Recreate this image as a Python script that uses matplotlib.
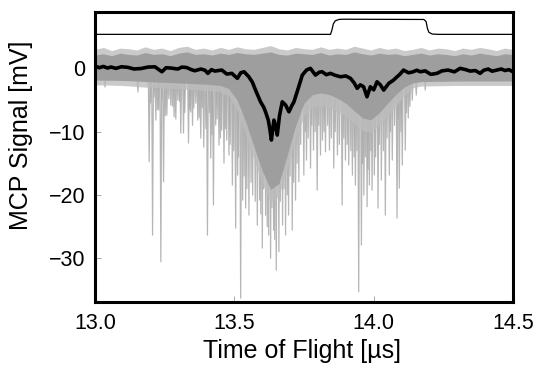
import numpy as np
import matplotlib
matplotlib.use("Agg")
import matplotlib.pyplot as plt

plt.rcParams['font.family'] = ['Liberation Sans', 'DejaVu Sans']

# ---- data ----
# averaged trace (thick black)
mean_t = [13.000, 13.015, 13.030, 13.045, 13.057, 13.075, 13.095, 13.118, 13.140, 13.165, 13.190,
          13.215, 13.240, 13.255, 13.272, 13.297, 13.312, 13.329, 13.345, 13.358, 13.380, 13.395,
          13.405, 13.418, 13.430, 13.455, 13.473, 13.491, 13.511, 13.523, 13.535, 13.552, 13.565,
          13.576, 13.594, 13.605, 13.612, 13.622, 13.628, 13.633, 13.642, 13.648, 13.654, 13.662,
          13.672, 13.684, 13.696, 13.705, 13.714, 13.731, 13.744, 13.759, 13.773, 13.791, 13.805,
          13.815, 13.830, 13.845, 13.862, 13.881, 13.900, 13.917, 13.930, 13.941, 13.952, 13.964,
          13.976, 13.988, 14.000, 14.012, 14.024, 14.036, 14.054, 14.070, 14.084, 14.095, 14.107,
          14.125, 14.139, 14.155, 14.167, 14.185, 14.205, 14.227, 14.245, 14.267, 14.290, 14.310,
          14.330, 14.346, 14.365, 14.382, 14.395, 14.411, 14.425, 14.442, 14.458, 14.471, 14.485,
          14.500]
mean_v = [0.36, 0.10, 0.30, 0.05, 0.21, 0.00, 0.25, 0.16, -0.10, -0.03, 0.20,
          0.25, -0.54, 0.10, 0.05, -0.11, 0.20, 0.13, -0.20, -0.38, -0.11, -0.30,
          -0.79, -0.20, -0.43, -0.27, -0.90, -0.79, -1.58, -0.70, -0.54, -1.33, -2.20,
          -3.43, -5.28, -6.10, -6.87, -8.20, -9.75, -11.33, -8.17, -9.00, -10.54, -7.50,
          -5.28, -5.80, -6.86, -6.00, -5.28, -2.91, -1.06, -0.27, 0.00, -1.06, -0.60,
          -0.54, -1.00, -0.79, -1.10, -1.33, -1.20, -1.58, -2.30, -3.16, -2.60, -2.91,
          -4.49, -2.91, -3.40, -2.12, -2.60, -3.43, -2.37, -1.90, -1.33, -0.90, -0.27,
          -0.70, -0.58, -0.30, -0.54, -0.40, -0.95, -0.79, -0.40, -0.27, -0.55, 0.00,
          -0.20, -0.43, -0.35, -0.79, -0.30, -0.11, -0.45, -0.27, -0.10, -0.35, -0.20,
          -0.54]

# gate / trigger trace (thin black step)
gate_t = [13.000, 13.845, 13.850, 13.855, 13.862, 13.875, 13.890, 14.180, 14.188, 14.193, 14.198, 14.210, 14.230, 14.500]
gate_v = [5.37, 5.37, 6.00, 7.00, 7.50, 7.72, 7.76, 7.72, 7.40, 6.30, 5.70, 5.42, 5.37, 5.37]

# envelope of the single-shot traces (grey band)
band_t = [13.000, 13.030, 13.060, 13.090, 13.120, 13.150, 13.180, 13.210, 13.240, 13.270, 13.300,
          13.330, 13.360, 13.390, 13.420, 13.450, 13.480, 13.510, 13.540, 13.570, 13.600, 13.630,
          13.660, 13.690, 13.720, 13.750, 13.780, 13.810, 13.840, 13.870, 13.900, 13.930, 13.960,
          13.990, 14.020, 14.050, 14.080, 14.110, 14.140, 14.170, 14.200, 14.230, 14.260, 14.290,
          14.320, 14.350, 14.380, 14.410, 14.440, 14.470, 14.500]
band_top = [2.1, 2.3, 2.0, 2.4, 2.2, 2.1, 2.5, 2.2, 2.3, 2.0, 2.4,
            2.6, 2.2, 2.3, 2.1, 2.4, 2.2, 2.5, 2.3, 2.2, 2.4, 2.6,
            2.2, 2.1, 2.4, 2.3, 2.2, 2.5, 2.1, 2.3, 2.2, 2.6, 2.3,
            2.1, 2.4, 2.2, 2.3, 2.0, 2.2, 2.4, 2.1, 2.3, 2.2, 2.0,
            2.3, 2.1, 2.4, 2.2, 2.0, 2.3, 2.2]
fringe_top = [3.0, 3.3, 2.8, 3.2, 3.1, 2.9, 3.4, 3.0, 3.2, 2.8, 3.3,
              3.5, 3.0, 3.2, 2.9, 3.3, 3.0, 3.4, 3.1, 3.0, 3.3, 3.6,
              3.1, 2.9, 3.3, 3.1, 3.0, 3.4, 3.0, 3.2, 3.0, 3.5, 3.2,
              2.9, 3.3, 3.0, 3.2, 2.8, 3.0, 3.3, 2.9, 3.2, 3.1, 2.8,
              3.2, 3.0, 3.3, 3.1, 2.8, 3.2, 3.0]
core_t = [13.000, 13.100, 13.190, 13.300, 13.400, 13.470, 13.500, 13.530, 13.560, 13.590, 13.620,
          13.645, 13.670, 13.700, 13.730, 13.760, 13.800, 13.850, 13.900, 13.950, 13.980, 14.020,
          14.060, 14.100, 14.130, 14.160, 14.300, 14.500]
core_bot = [-1.85, -1.9, -2.1, -2.3, -2.5, -2.8, -4.0, -7.0, -11.0, -15.0, -18.5,
            -20.0, -17.0, -12.0, -7.5, -4.5, -3.8, -4.2, -5.5, -7.5, -8.5, -7.0,
            -5.0, -3.2, -2.4, -2.1, -2.0, -2.0]
fringe_bot = [-2.6, -2.7, -3.0, -3.2, -3.5, -3.8, -5.5, -9.0, -13.0, -17.0, -20.5,
              -22.0, -19.0, -14.0, -9.5, -6.5, -5.8, -6.3, -7.5, -9.5, -10.5, -9.0,
              -7.0, -4.8, -3.2, -2.8, -2.7, -2.7]

# individual excursions of single shots
spike_t = [13.0358, 13.154, 13.1944, 13.2066, 13.2184, 13.2291, 13.2363, 13.2460, 13.2578, 13.2721,
           13.2839, 13.2972, 13.3079, 13.3176, 13.3355, 13.3437, 13.3545, 13.3688, 13.3795, 13.3903,
           13.4035, 13.4153, 13.4250, 13.4332, 13.4450, 13.4547, 13.4629, 13.4726, 13.4808, 13.4930,
           13.5048, 13.5120, 13.5227, 13.5299, 13.5406, 13.5524, 13.5657, 13.5825, 13.5908, 13.6004,
           13.6122, 13.6230, 13.6301, 13.6409, 13.6505, 13.6599, 13.6731, 13.6839, 13.6946, 13.7078,
           13.7197, 13.7315, 13.7494, 13.7590, 13.7734, 13.7841, 13.7973, 13.8092, 13.8163, 13.8271,
           13.8414, 13.8568, 13.8700, 13.8869, 13.8987, 13.9105, 13.9237, 13.9345, 13.9463, 13.9560,
           13.9649, 13.9764, 13.9846, 13.9943, 14.0025, 14.0157, 14.0276, 14.0419, 14.0562, 14.0669,
           14.0838, 14.0920, 14.1027, 14.1135, 14.1242, 14.1385, 14.1528, 14.1851,
           13.200, 13.212, 13.225, 13.240, 13.252, 13.265, 13.278, 13.290, 13.303, 13.322,
           13.340, 13.350, 13.362, 13.374, 13.385, 13.398, 13.410, 13.420, 13.438, 13.450,
           13.468, 13.485, 13.498,
           13.515, 13.535, 13.545, 13.560, 13.575, 13.595, 13.605, 13.618, 13.635, 13.645,
           13.665, 13.678, 13.690, 13.700, 13.713, 13.725, 13.738,
           13.755, 13.765, 13.778, 13.790, 13.803, 13.822, 13.835, 13.848, 13.862, 13.877,
           13.893, 13.905, 13.918, 13.930, 13.940, 13.960, 13.970, 13.980, 13.990, 14.007,
           14.020, 14.035, 14.048, 14.060, 14.075, 14.088, 14.098, 14.118, 14.130]
spike_v = [-2.95, -3.74, -14.76, -26.34, -8.17, -6.59, -30.55, -17.91, -7.38, -5.80,
           -7.65, -5.01, -10.22, -10.22, -11.80, -6.90, -6.27, -8.17, -11.01, -12.43,
           -26.34, -14.17, -21.60, -8.96, -12.12, -9.75, -14.96, -11.33, -13.70, -18.44,
           -25.23, -16.86, -36.29, -20.81, -22.07, -23.18, -20.02, -24.76, -20.81, -28.39,
           -23.18, -26.34, -29.97, -25.55, -31.86, -28.97, -24.76, -26.34, -23.18, -25.55,
           -20.81, -17.91, -16.86, -14.49, -15.75, -12.91, -19.23, -13.70, -11.33, -13.18,
           -12.91, -15.75, -13.70, -21.60, -14.49, -15.28, -16.86, -18.44, -35.29, -27.92,
           -20.02, -21.86, -18.44, -19.23, -16.86, -22.07, -17.65, -23.18, -16.86, -14.49,
           -23.65, -18.91, -15.28, -12.91, -7.85, -5.01, -4.22, -3.43,
           -5.5, -4.5, -6.5, -5.0, -7.5, -4.8, -6.0, -8.0, -5.2, -7.0,
           -6.5, -9.0, -5.5, -7.8, -6.2, -9.5, -7.0, -10.5, -8.0, -11.0,
           -9.5, -12.0, -13.0,
           -14.0, -17.0, -19.0, -18.0, -21.0, -23.0, -19.0, -25.0, -22.0, -27.0,
           -21.0, -19.0, -20.0, -17.0, -18.0, -15.0, -12.0,
           -10.0, -11.0, -9.0, -10.0, -9.0, -10.0, -9.0, -11.0, -10.0, -12.0,
           -11.0, -12.0, -13.0, -14.0, -13.0, -15.0, -14.0, -16.0, -13.0, -14.0,
           -12.0, -13.0, -11.0, -10.0, -9.0, -8.0, -10.0, -7.0, -6.0]

x_ticks = [13.0, 13.5, 14.0, 14.5]
y_ticks = [0, -10, -20, -30]

# ---- figure ----
fig = plt.figure(figsize=(5.36, 3.66), dpi=100)
ax = fig.add_axes([95/536, 64/366, 418/536, 290/366])

spike_col = '#aaaaaa'
core_col = '#9e9e9e'
fringe_col = '#bdbdbd'

hw = 0.003
for t, v in zip(spike_t, spike_v):
    ax.plot([t - hw, t, t + hw], [-1.5, v, -1.5], color=spike_col, lw=0.9,
            alpha=0.85, zorder=1)

ax.fill_between(band_t, fringe_top, np.interp(band_t, core_t, fringe_bot),
                color=fringe_col, lw=0, alpha=0.8, zorder=2)
ax.fill_between(band_t, band_top, np.interp(band_t, core_t, core_bot),
                color=core_col, lw=0, zorder=3)

ax.plot(mean_t, mean_v, color='black', lw=2.6, zorder=5, solid_joinstyle='round')
ax.plot(gate_t, gate_v, color='black', lw=0.9, zorder=5)

ax.set_xlim(13.0, 14.5)
ax.set_ylim(-36.9, 8.9)
ax.set_xticks(x_ticks)
ax.set_xticklabels(['13.0', '13.5', '14.0', '14.5'])
ax.set_yticks(y_ticks)
ax.tick_params(direction='in', length=4, width=0.6, color='#999999',
               labelsize=15.5)
ax.tick_params(axis='x', pad=8)
ax.tick_params(axis='y', pad=7)
for s in ax.spines.values():
    s.set_linewidth(2.2)
    s.set_zorder(10)

ax.set_xlabel('Time of Flight [µs]', fontsize=18)
ax.set_ylabel('MCP Signal [mV]', fontsize=18)
ax.xaxis.set_label_coords(0.495, -0.128)
ax.yaxis.set_label_coords(-0.148, 0.575)

fig.savefig('out.png', dpi=100)
